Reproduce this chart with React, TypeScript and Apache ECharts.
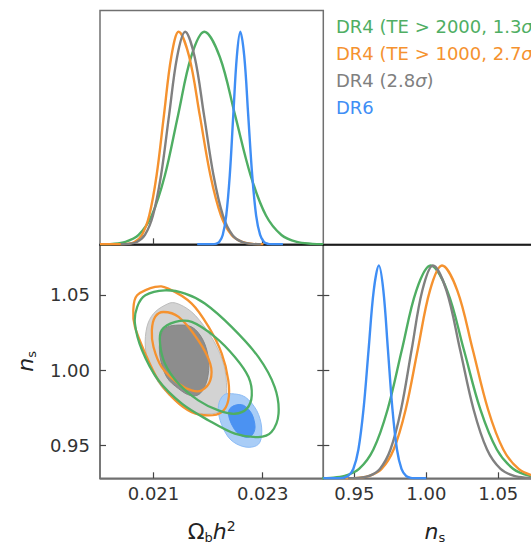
import React, { useEffect, useRef } from 'react';
import * as echarts from 'echarts';

// ---------- data ----------
const LABELS = ['DR4 (TE > 2000, 1.3{i|σ})', 'DR4 (TE > 1000, 2.7{i|σ})', 'DR4 (2.8{i|σ})', 'DR6'];
const COLORS = ['#4fae63', '#f5922f', '#808080', '#3f8ef5'];

const OMB_TICKS = [0.021, 0.023];
const NS_TICKS = [0.95, 1.0, 1.05];

// 1D marginal of Omega_b h^2 : [value, normalised density]
const OMB_GREEN = [[0.02002, 0.0006], [0.020247, 0.0022], [0.020487, 0.0111], [0.020728, 0.0439], [0.020968, 0.1353], [0.021209, 0.3247], [0.021449, 0.6065], [0.02169, 0.8825], [0.02193, 1], [0.022213, 0.8825], [0.022495, 0.6065], [0.022778, 0.3247], [0.02306, 0.1353], [0.023343, 0.0439], [0.023625, 0.0111], [0.023908, 0.0022], [0.02411, 0.0005]];
const OMB_ORANGE = [[0.02002, 0], [0.020384, 0.0003], [0.020519, 0.0022], [0.020653, 0.0111], [0.020788, 0.0439], [0.020922, 0.1353], [0.021057, 0.3247], [0.021191, 0.6065], [0.021326, 0.8825], [0.02146, 1], [0.021654, 0.8825], [0.021848, 0.6065], [0.022042, 0.3247], [0.022236, 0.1353], [0.02243, 0.0439], [0.022624, 0.0111], [0.022818, 0.0022], [0.023012, 0.0003]];
const OMB_GRAY = [[0.0204, 0.0003], [0.020548, 0.0022], [0.020695, 0.0111], [0.020843, 0.0439], [0.02099, 0.1353], [0.021138, 0.3247], [0.021285, 0.6065], [0.021433, 0.8825], [0.02158, 1], [0.021753, 0.8825], [0.021926, 0.6065], [0.022099, 0.3247], [0.022272, 0.1353], [0.022445, 0.0439], [0.022618, 0.0111], [0.022791, 0.0022], [0.022964, 0.0003]];
const OMB_BLUE = [[0.0218, 0], [0.022074, 0.0003], [0.022139, 0.0022], [0.022203, 0.0111], [0.022268, 0.0439], [0.022332, 0.1353], [0.022397, 0.3247], [0.022461, 0.6065], [0.022526, 0.8825], [0.02259, 1], [0.022663, 0.8825], [0.022735, 0.6065], [0.022808, 0.3247], [0.02288, 0.1353], [0.022953, 0.0439], [0.023025, 0.0111], [0.023098, 0.0022], [0.02317, 0.0003], [0.02337, 0]];

// 1D marginal of n_s
const NS_GREEN = [[0.9234, 0.0003], [0.93335, 0.0022], [0.9433, 0.0111], [0.95325, 0.0439], [0.9632, 0.1353], [0.97315, 0.3247], [0.9831, 0.6065], [0.99305, 0.8825], [1.003, 1], [1.0145, 0.8825], [1.026, 0.6065], [1.0375, 0.3247], [1.049, 0.1353], [1.0605, 0.0439], [1.072, 0.0111], [1.0835, 0.0022], [1.095, 0.0003]];
const NS_ORANGE = [[0.9437, 0.0003], [0.9521, 0.0022], [0.9605, 0.0111], [0.9689, 0.0439], [0.9773, 0.1353], [0.9857, 0.3247], [0.9941, 0.6065], [1.0025, 0.8825], [1.0109, 1], [1.02155, 0.8825], [1.0322, 0.6065], [1.04285, 0.3247], [1.0535, 0.1353], [1.06415, 0.0439], [1.0748, 0.0111], [1.08545, 0.0022], [1.0961, 0.0003]];
const NS_GRAY = [[0.9456, 0.0003], [0.95297, 0.0022], [0.96035, 0.0111], [0.96772, 0.0439], [0.9751, 0.1353], [0.98248, 0.3247], [0.98985, 0.6065], [0.99722, 0.8825], [1.0046, 1], [1.014, 0.8825], [1.0234, 0.6065], [1.0328, 0.3247], [1.0422, 0.1353], [1.0516, 0.0439], [1.061, 0.0111], [1.0704, 0.0022], [1.0798, 0.0003]];
const NS_BLUE = [[0.9284, 0], [0.9386, 0.0003], [0.94215, 0.0022], [0.9457, 0.0111], [0.94925, 0.0439], [0.9528, 0.1353], [0.95635, 0.3247], [0.9599, 0.6065], [0.96345, 0.8825], [0.967, 1], [0.97015, 0.8825], [0.9733, 0.6065], [0.97645, 0.3247], [0.9796, 0.1353], [0.98275, 0.0439], [0.9859, 0.0111], [0.98905, 0.0022], [0.9922, 0.0003], [1.0, 0]];

// 2D contours (Omega_b h^2, n_s)
const GRAY_68 = [[0.0214, 1.0299], [0.0217, 1.0288], [0.02191, 1.0199], [0.02201, 1.0066], [0.02198, 0.9934], [0.02185, 0.9845], [0.02167, 0.9834], [0.02146, 0.9878], [0.02124, 0.9956], [0.02112, 1.0089], [0.02112, 1.021], [0.02121, 1.0277]];
const GRAY_95 = [[0.0214, 1.0447], [0.0217, 1.0387], [0.02198, 1.0266], [0.02219, 1.0133], [0.02231, 1.0], [0.02234, 0.9845], [0.02228, 0.9746], [0.02207, 0.9712], [0.02176, 0.9723], [0.02146, 0.9779], [0.02115, 0.9889], [0.02094, 1.0022], [0.02085, 1.0155], [0.02088, 1.0288], [0.021, 1.0376], [0.02121, 1.0432]];
const ORANGE_68 = [[0.02118, 1.0387], [0.02146, 1.0354], [0.02182, 1.0199], [0.02204, 1.0044], [0.02204, 0.9934], [0.02188, 0.9867], [0.0217, 0.9867], [0.02146, 0.9911], [0.02115, 1.0022], [0.021, 1.0155], [0.02097, 1.0266], [0.02103, 1.0354]];
const ORANGE_95 = [[0.0207, 1.0498], [0.02103, 1.0553], [0.02127, 1.0542], [0.0217, 1.0443], [0.02201, 1.0288], [0.02225, 1.0111], [0.02237, 0.9934], [0.02237, 0.9801], [0.02225, 0.9723], [0.02201, 0.9701], [0.0217, 0.9723], [0.0214, 0.9801], [0.02109, 0.9934], [0.02085, 1.0111], [0.02066, 1.0288], [0.02063, 1.0398]];
const GREEN_68 = [[0.02115, 1.0266], [0.0214, 1.0321], [0.0217, 1.0321], [0.02213, 1.0221], [0.02249, 1.0089], [0.02274, 0.9956], [0.0228, 0.9834], [0.02271, 0.9746], [0.02249, 0.9712], [0.02219, 0.9734], [0.02182, 0.9801], [0.02146, 0.9911], [0.02121, 1.0044], [0.02112, 1.0177]];
const GREEN_95 = [[0.02085, 1.0498], [0.02121, 1.0531], [0.02158, 1.0509], [0.02194, 1.0443], [0.02243, 1.0288], [0.02292, 1.0089], [0.02322, 0.9889], [0.02329, 0.9712], [0.02316, 0.9591], [0.02292, 0.9557], [0.02249, 0.958], [0.02201, 0.9668], [0.02152, 0.9779], [0.02109, 0.9934], [0.02079, 1.0133], [0.02066, 1.031], [0.0207, 1.042]];
const BLUE_68 = [[0.02249, 0.9768], [0.02265, 0.9768], [0.0228, 0.9712], [0.02286, 0.9624], [0.0228, 0.9568], [0.02268, 0.9557], [0.02252, 0.9591], [0.0224, 0.9668], [0.02238, 0.9734]];
const BLUE_95 = [[0.02243, 0.9845], [0.02268, 0.9823], [0.02289, 0.9734], [0.02298, 0.9624], [0.02295, 0.9524], [0.0228, 0.9491], [0.02258, 0.9502], [0.02237, 0.9557], [0.02222, 0.9668], [0.02219, 0.9768], [0.02228, 0.9834]];

const OMB_MIN = 0.02002;
const OMB_MAX = 0.02411;
const NS_MIN = 0.9284;
const NS_MAX = 1.0836;
const DENS_MAX = 1.1;

const FONT = 'DejaVu Sans';
const FRAME = '#707070';

// closed Catmull-Rom curve through pixel points -> SVG path data
function closedSpline(p: number[][]): string {
  const n = p.length;
  let d = `M${p[0][0]},${p[0][1]}`;
  for (let i = 0; i < n; i++) {
    const p0 = p[(i - 1 + n) % n], p1 = p[i], p2 = p[(i + 1) % n], p3 = p[(i + 2) % n];
    const c1x = p1[0] + (p2[0] - p0[0]) / 6, c1y = p1[1] + (p2[1] - p0[1]) / 6;
    const c2x = p2[0] - (p3[0] - p1[0]) / 6, c2y = p2[1] - (p3[1] - p1[1]) / 6;
    d += `C${c1x},${c1y},${c2x},${c2y},${p2[0]},${p2[1]}`;
  }
  return d + 'Z';
}

export default function App() {
  const ref = useRef<HTMLDivElement>(null);
  useEffect(() => {
    if (!ref.current) return;
    const chart = echarts.init(ref.current, null, { renderer: 'svg' });

    const hidden = { show: false };
    const tickStyle = (vals: number[]) => ({
      show: true, inside: true, length: 6, customValues: vals,
      lineStyle: { color: '#444', width: 1.2 },
    });
    const lbl = (vals: number[], digits: number, margin: number) => ({
      show: true, customValues: vals, margin,
      formatter: (v: number) => v.toFixed(digits),
      fontSize: 18, fontFamily: FONT, color: '#333',
    });
    const nameRichX = {
      o: { fontSize: 22, fontFamily: FONT, color: '#222' },
      s: { fontSize: 13, fontFamily: FONT, color: '#222', padding: [13, 0, 0, 0] },
      h: { fontSize: 22, fontFamily: FONT, fontStyle: 'italic', color: '#222' },
      p: { fontSize: 14, fontFamily: FONT, color: '#222', padding: [0, 0, 11, 0] },
    };

    const lineSeries = (data: number[][], color: string, xi: number, yi: number, z: number) => ({
      type: 'line', data, xAxisIndex: xi, yAxisIndex: yi, showSymbol: false, symbol: 'none',
      smooth: 0.35, clip: true, z,
      lineStyle: { color, width: 2.4 },
    });
    const contour = (pts: number[][], style: any, z: number) => ({
      type: 'custom', coordinateSystem: 'cartesian2d', xAxisIndex: 1, yAxisIndex: 1,
      data: pts, z, silent: true, clip: true,
      renderItem: (params: any, api: any) => {
        if (params.dataIndex !== 0) return null;
        return {
          type: 'path',
          shape: { pathData: closedSpline(pts.map((p) => api.coord(p))) },
          style,
        };
      },
    });

    const legendText = LABELS.map((t, i) => ({
      type: 'text', x: 336, y: 26 + i * 27,
      style: {
        text: t, fill: COLORS[i], font: `18px "${FONT}"`, fontSize: 18, fontFamily: FONT,
        textAlign: 'left', textVerticalAlign: 'middle', verticalAlign: 'middle',
        rich: { i: { fontStyle: 'italic', fontSize: 18, fontFamily: FONT, fill: COLORS[i], color: COLORS[i] } },
      },
    }));

    const gridBase = { show: true, borderColor: FRAME, borderWidth: 1.5, backgroundColor: 'transparent', outerBoundsMode: 'none', containLabel: false };

    chart.setOption({
      animation: false,
      backgroundColor: '#fff',
      grid: [
        { ...gridBase, left: 100, top: 10.5, width: 223.3, height: 233.8 },
        { ...gridBase, left: 100, top: 244.3, width: 223.3, height: 234 },
        { ...gridBase, left: 323.3, top: 244.3, width: 223.3, height: 234 },
      ],
      xAxis: [
        { type: 'value', gridIndex: 0, min: OMB_MIN, max: OMB_MAX, splitLine: hidden,
          axisLine: { show: true, onZero: false, lineStyle: { color: '#000', width: 1.6 } },
          axisTick: tickStyle(OMB_TICKS), axisLabel: hidden },
        { type: 'value', gridIndex: 1, min: OMB_MIN, max: OMB_MAX, splitLine: hidden,
          axisLine: { show: true, onZero: false, lineStyle: { color: FRAME, width: 1.5 } },
          axisTick: tickStyle(OMB_TICKS), axisLabel: lbl(OMB_TICKS, 3, 6),
          name: '{o|Ω}{s|b}{h|h}{p|2}', nameLocation: 'middle', nameGap: 40,
          nameTextStyle: { rich: nameRichX } },
        { type: 'value', gridIndex: 2, min: NS_MIN, max: NS_MAX, splitLine: hidden,
          axisLine: { show: true, onZero: false, lineStyle: { color: FRAME, width: 1.5 } },
          axisTick: tickStyle(NS_TICKS), axisLabel: lbl(NS_TICKS, 2, 6),
          name: '{h|n}{s|s}', nameLocation: 'middle', nameGap: 40,
          nameTextStyle: { rich: nameRichX } },
        { type: 'value', gridIndex: 2, position: 'top', min: NS_MIN, max: NS_MAX, splitLine: hidden,
          axisLine: { show: true, onZero: false, lineStyle: { color: '#000', width: 1.6 } },
          axisTick: hidden, axisLabel: hidden },
      ],
      yAxis: [
        { type: 'value', gridIndex: 0, min: 0, max: DENS_MAX, splitLine: hidden, axisLine: hidden, axisTick: hidden, axisLabel: hidden },
        { type: 'value', gridIndex: 1, min: NS_MIN, max: NS_MAX, splitLine: hidden,
          axisLine: { show: true, onZero: false, lineStyle: { color: FRAME, width: 1.5 } },
          axisTick: tickStyle(NS_TICKS), axisLabel: lbl(NS_TICKS, 2, 10),
          name: '{h|n}{s|s}', nameLocation: 'middle', nameGap: 62,
          nameTextStyle: { rich: nameRichX } },
        { type: 'value', gridIndex: 1, position: 'right', min: NS_MIN, max: NS_MAX, splitLine: hidden,
          axisLine: hidden, axisTick: tickStyle(NS_TICKS), axisLabel: hidden },
        { type: 'value', gridIndex: 2, position: 'right', min: 0, max: DENS_MAX, splitLine: hidden, axisLine: hidden, axisTick: hidden, axisLabel: hidden },
        { type: 'value', gridIndex: 2, position: 'left', min: NS_MIN, max: NS_MAX, splitLine: hidden,
          axisLine: hidden, axisTick: tickStyle(NS_TICKS), axisLabel: hidden },
      ],
      series: [
        lineSeries(OMB_GREEN, COLORS[0], 0, 0, 3),
        lineSeries(OMB_ORANGE, COLORS[1], 0, 0, 4),
        lineSeries(OMB_GRAY, COLORS[2], 0, 0, 5),
        lineSeries(OMB_BLUE, COLORS[3], 0, 0, 6),
        lineSeries(NS_GREEN, COLORS[0], 2, 3, 3),
        lineSeries(NS_ORANGE, COLORS[1], 2, 3, 4),
        lineSeries(NS_GRAY, COLORS[2], 2, 3, 5),
        lineSeries(NS_BLUE, COLORS[3], 2, 3, 6),
        contour(GRAY_95, { fill: '#d3d3d3', stroke: '#bdbdbd', lineWidth: 1 }, 2),
        contour(GRAY_68, { fill: '#8d8d8d', stroke: '#858585', lineWidth: 1 }, 2),
        contour(BLUE_95, { fill: '#a9cdf7', stroke: '#8dbcf5', lineWidth: 1 }, 2),
        contour(BLUE_68, { fill: '#4b92f2', stroke: '#4b92f2', lineWidth: 1 }, 2),
        contour(ORANGE_95, { fill: 'none', stroke: COLORS[1], lineWidth: 2.3 }, 3),
        contour(ORANGE_68, { fill: 'none', stroke: COLORS[1], lineWidth: 2.3 }, 3),
        contour(GREEN_95, { fill: 'none', stroke: COLORS[0], lineWidth: 2.3 }, 4),
        contour(GREEN_68, { fill: 'none', stroke: COLORS[0], lineWidth: 2.3 }, 4),
      ],
      graphic: legendText,
    });
    return () => chart.dispose();
  }, []);
  return (
    <div
      ref={ref}
      style={{ position: 'absolute', left: 0, top: 0, width: 531, height: 542, overflow: 'hidden' }}
    />
  );
}
